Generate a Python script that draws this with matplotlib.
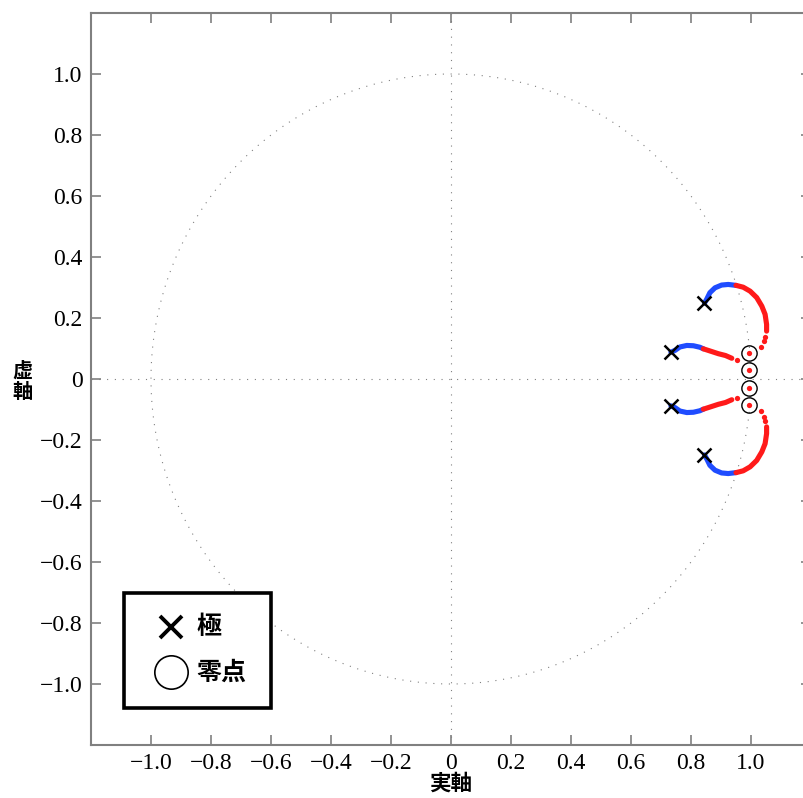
import numpy as np
import matplotlib
matplotlib.use("Agg")
import matplotlib.pyplot as plt
from matplotlib.patches import Rectangle

# Open-loop poles and zeros (upper half-plane; conjugates mirrored)
pole_re = [0.845, 0.733]
pole_im = [0.249, 0.088]
zero_re = [0.995, 0.995]
zero_im = [0.084, 0.031]

# Outer branch (from pole 0.845+0.249j), low gain part
outer_low_re = [0.845, 0.852, 0.863, 0.880, 0.902, 0.924, 0.950]
outer_low_im = [0.249, 0.261, 0.283, 0.299, 0.308, 0.310, 0.307]
# Outer branch, high gain part
outer_high_re = [0.950, 0.974, 0.997, 1.019, 1.036, 1.047, 1.052, 1.052]
outer_high_im = [0.307, 0.301, 0.288, 0.267, 0.239, 0.212, 0.179, 0.157]
outer_tail_re = [1.048, 1.043, 1.033]
outer_tail_im = [0.139, 0.124, 0.105]

# Inner branch (from pole 0.733+0.088j)
inner_low_re = [0.733, 0.747, 0.763, 0.786, 0.808, 0.830, 0.841]
inner_low_im = [0.088, 0.094, 0.105, 0.110, 0.109, 0.104, 0.099]
inner_high_re = [0.841, 0.863, 0.891, 0.915, 0.936]
inner_high_im = [0.099, 0.092, 0.083, 0.077, 0.068]
inner_tail_re = [0.952]
inner_tail_im = [0.062]

xticks = [-1.0, -0.8, -0.6, -0.4, -0.2, 0.0, 0.2, 0.4, 0.6, 0.8, 1.0]
yticks = [-1.0, -0.8, -0.6, -0.4, -0.2, 0.0, 0.2, 0.4, 0.6, 0.8, 1.0]

BLUE = "#1f4cff"
RED = "#ff1a1a"
GRAY = "#808080"
CJK = ["Noto Sans CJK JP", "DejaVu Sans"]

plt.rcParams["font.family"] = ["Liberation Serif", "DejaVu Serif"]

W, H = 804, 798
fig = plt.figure(figsize=(W / 100, H / 100), dpi=100)
ax = fig.add_axes([91 / W, 53 / H, 720 / W, 732 / H])
ax.set_xlim(-1.2, 1.2)
ax.set_ylim(-1.2, 1.2)


def fpos(px, py):
    """figure fraction from pixel position measured from the top-left corner"""
    return px / W, 1 - py / H


# Unit circle and reference axes
th = np.linspace(0, 2 * np.pi, 721)
dot = (0, (1, 6))
ax.plot(np.cos(th), np.sin(th), color=GRAY, lw=0.8, ls=dot)
ax.axhline(0, color=GRAY, lw=0.8, ls=dot)
ax.axvline(0, color=GRAY, lw=0.8, ls=dot)

lw_branch = 3.7
for sgn in (1, -1):
    for lre, lim, hre, him, tre, tim in [
        (outer_low_re, outer_low_im, outer_high_re, outer_high_im, outer_tail_re, outer_tail_im),
        (inner_low_re, inner_low_im, inner_high_re, inner_high_im, inner_tail_re, inner_tail_im),
    ]:
        ax.plot(lre, sgn * np.array(lim), color=BLUE, lw=lw_branch,
                solid_capstyle="round", solid_joinstyle="round", zorder=3)
        ax.plot(hre, sgn * np.array(him), color=RED, lw=lw_branch,
                solid_capstyle="round", solid_joinstyle="round", zorder=3)
        ax.plot(tre, sgn * np.array(tim), "o", color=RED, ms=3.8, mew=0, zorder=3)
    # end points of the locus sitting on the zeros
    ax.plot(zero_re, sgn * np.array(zero_im), "o", color=RED, ms=3.8, mew=0, zorder=4)
    ax.plot(pole_re, sgn * np.array(pole_im), "x", color="black", ms=10, mew=1.8, zorder=5)
    ax.plot(zero_re, sgn * np.array(zero_im), "o", mfc="none", mec="black",
            ms=11, mew=1.0, zorder=5)

ax.set_xticks(xticks)
ax.set_yticks(yticks)
fmt = lambda v: "0" if v == 0 else f"{v:.1f}".replace("-", "\u2212")
ax.set_xticklabels([fmt(v) for v in xticks], fontsize=17)
ax.set_yticklabels([fmt(v) for v in yticks], fontsize=17)
ax.tick_params(direction="in", length=7, width=1.2, color=GRAY,
               top=True, right=True, pad=6)
for s in ax.spines.values():
    s.set_color(GRAY)
    s.set_linewidth(1.5)

fig.text(*fpos(451, 783), "実軸", family=CJK, fontweight="bold",
         fontsize=15.5, ha="center", va="center")
fig.text(*fpos(22, 381), "虚\n軸", family=CJK, fontweight="bold",
         fontsize=14.5, ha="center", va="center", linespacing=1.0)

# Legend box drawn in figure pixels
x0, y0 = fpos(124, 708)
x1, y1 = fpos(271, 593)
fig.add_artist(Rectangle((x0, y0), x1 - x0, y1 - y0, transform=fig.transFigure,
                         fill=True, facecolor="white", edgecolor="black",
                         lw=2.6, zorder=10))
mx, my = fpos(171, 627)
fig.add_artist(plt.Line2D([mx], [my], ls="none", marker="x", color="black",
                          ms=15.5, mew=2.8, transform=fig.transFigure, zorder=11))
mx, my = fpos(171, 672)
fig.add_artist(plt.Line2D([mx], [my], ls="none", marker="o", mfc="none", mec="black",
                          ms=24, mew=1.2, transform=fig.transFigure, zorder=11))
fig.text(*fpos(196, 627), "極", family=CJK, fontweight="bold", fontsize=18,
         ha="left", va="center", zorder=11)
fig.text(*fpos(196, 673), "零点", family=CJK, fontweight="bold", fontsize=18,
         ha="left", va="center", zorder=11)

fig.savefig("out.png", dpi=100, facecolor="white")
